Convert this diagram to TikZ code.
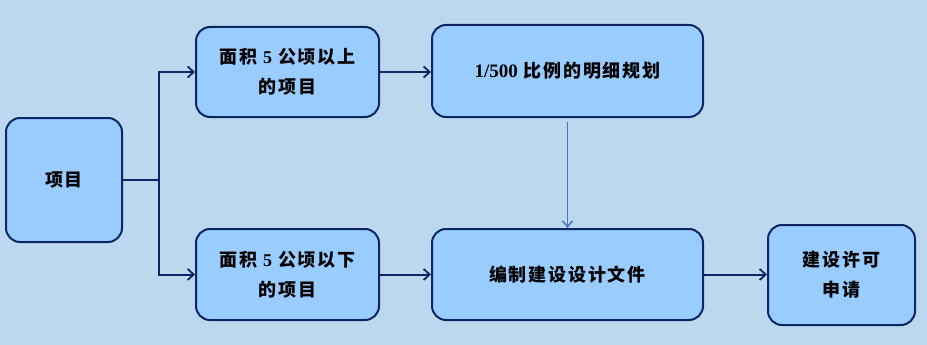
\documentclass[tikz,border=0pt]{standalone}
\usepackage{fontspec}
\setmainfont{Noto Sans CJK SC}[LetterSpace=10]
\newfontfamily\lat{Liberation Serif}
\usetikzlibrary{arrows.meta}
\definecolor{bgc}{HTML}{BBD8EE}
\definecolor{boxc}{HTML}{99CCFF}
\definecolor{edgec}{HTML}{0D2466}
\definecolor{bluec}{HTML}{4472C4}
\tikzset{
  box/.style={draw=edgec, fill=boxc, line width=2pt, rounded corners=14pt, align=center, inner sep=0pt, font=\fontsize{18}{30}\selectfont\bfseries},
  conn/.style={draw=edgec, line width=2pt, -{Straight Barb[length=6pt,width=11pt,line width=1.8pt]}},
  plain/.style={draw=edgec, line width=2pt},
}
\begin{document}
\begin{tikzpicture}[x=1pt,y=-1pt]
\fill[bgc] (0,0) rectangle (927,345);
\useasboundingbox (0,0) rectangle (927,345);
\node[box, minimum width=116pt, minimum height=124pt] (xm) at (64,180) {项目};
\node[box, minimum width=183pt, minimum height=90pt] (up) at (287.5,72) {面积 {\lat\bfseries 5} 公顷以上\\的项目};
\node[box, minimum width=271pt, minimum height=92pt] (pl) at (567.5,71) {{\lat\bfseries\fontsize{19}{30}\selectfont 1/500} 比例的明细规划};
\node[box, minimum width=183pt, minimum height=91pt] (dn) at (287.5,274.5) {面积 {\lat\bfseries 5} 公顷以下\\的项目};
\node[box, minimum width=271pt, minimum height=91pt] (bz) at (567.5,274.5) {编制建设设计文件};
\node[box, minimum width=147pt, minimum height=100pt] (sq) at (841.5,275) {建设许可\\申请};
\coordinate (j) at (159,180);
\draw[plain] (xm.east) -- (j);
\draw[conn] (j) |- (up.west);
\draw[conn] (j) |- (dn.west);
\draw[conn] (up.east) -- (pl.west |- up.east);
\draw[conn] (dn.east) -- (bz.west |- dn.east);
\draw[conn] (bz.east) -- (sq.west |- bz.east);
\draw[bluec, line width=1.7pt, -{Straight Barb[length=6pt,width=10pt,line width=1.5pt]}] ([yshift=-4pt]pl.south) -- (bz.north);
\end{tikzpicture}
\end{document}
